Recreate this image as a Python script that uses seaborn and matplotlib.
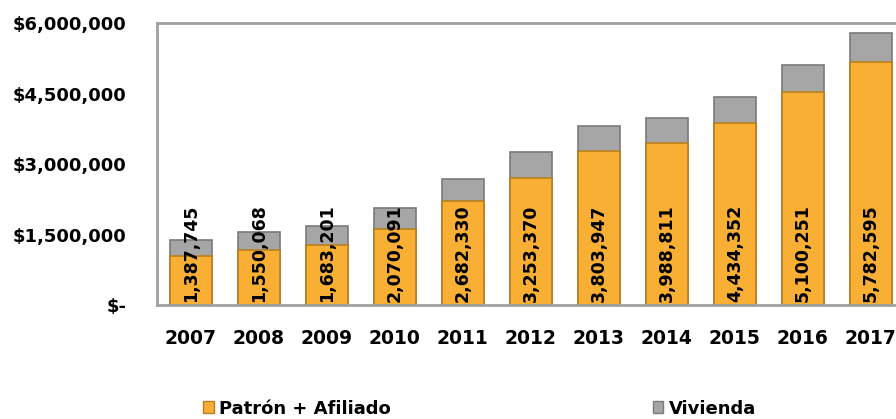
import pandas as pd
import matplotlib
matplotlib.use("Agg")
import matplotlib.pyplot as plt
import seaborn as sns
from matplotlib.patches import Patch
from matplotlib.ticker import FuncFormatter

# datos
anios = ['2007', '2008', '2009', '2010', '2011', '2012', '2013', '2014', '2015', '2016', '2017']
patron_afiliado = [1040000, 1170000, 1280000, 1620000, 2210000, 2700000, 3280000, 3450000, 3870000, 4530000, 5170000]
vivienda = [347745, 380068, 403201, 450091, 472330, 553370, 523947, 538811, 564352, 570251, 612595]
etiquetas = ['1,387,745', '1,550,068', '1,683,201', '2,070,091', '2,682,330', '3,253,370',
             '3,803,947', '3,988,811', '4,434,352', '5,100,251', '5,782,595']
yticks = [0, 1500000, 3000000, 4500000, 6000000]

df = pd.DataFrame({'anio': anios, 'patron': patron_afiliado, 'vivienda': vivienda})
df['total'] = df['patron'] + df['vivienda']

sns.set_style('white')
plt.rcParams['font.family'] = ['DejaVu Sans']
plt.rcParams['font.weight'] = 'bold'
plt.rcParams['text.color'] = 'black'
plt.rcParams['xtick.color'] = 'black'
plt.rcParams['ytick.color'] = 'black'

naranja = '#F8AF34'
naranja_borde = '#B9801E'
gris = '#A6A6A6'
gris_borde = '#7A7A7A'

fig = plt.figure(figsize=(8.96, 4.19), dpi=100)
ax = fig.add_axes([0.175, 0.272, 0.825, 0.673])

# barra total (gris) y encima la parte de patrón + afiliado (naranja)
sns.barplot(data=df, x='anio', y='total', color=gris, width=0.62, ax=ax,
            edgecolor=gris_borde, linewidth=1.2, saturation=1)
sns.barplot(data=df, x='anio', y='patron', color=naranja, width=0.62, ax=ax,
            edgecolor=naranja_borde, linewidth=1.2, saturation=1)

for i, lbl in enumerate(etiquetas):
    ax.annotate(lbl, (i, 0), xytext=(0, 2), textcoords='offset points',
                rotation=90, ha='center', va='bottom', fontsize=12.5,
                fontweight='bold', color='black')

ax.set_xlim(-0.5, 10.37)
ax.set_ylim(0, 6000000)
ax.set_yticks(yticks)
ax.yaxis.set_major_formatter(FuncFormatter(lambda v, p: '$-' if v == 0 else f'${v:,.0f}'))
ax.tick_params(axis='y', length=0, pad=22, labelsize=13, labelcolor='black')
ax.tick_params(axis='x', length=0, pad=17, labelsize=13.5, labelcolor='black')
for lab in ax.get_xticklabels() + ax.get_yticklabels():
    lab.set_fontweight('bold')
ax.set_xlabel('')
ax.set_ylabel('')

for s in ['left', 'top', 'bottom']:
    ax.spines[s].set_color('#A0A0A0')
    ax.spines[s].set_linewidth(2)
ax.spines['right'].set_visible(False)

handles = [Patch(facecolor=naranja, edgecolor=naranja_borde, label='Patrón + Afiliado'),
           Patch(facecolor=gris, edgecolor=gris_borde, label='Vivienda')]
leg = fig.legend(handles=handles, loc='center', bbox_to_anchor=(0.535, 0.025), ncol=2,
                 frameon=False, columnspacing=14.5, handlelength=0.6,
                 handleheight=0.6, handletextpad=0.3, prop={'weight': 'bold', 'size': 13})
for t in leg.get_texts():
    t.set_color('black')

fig.savefig('out.png', dpi=100)
